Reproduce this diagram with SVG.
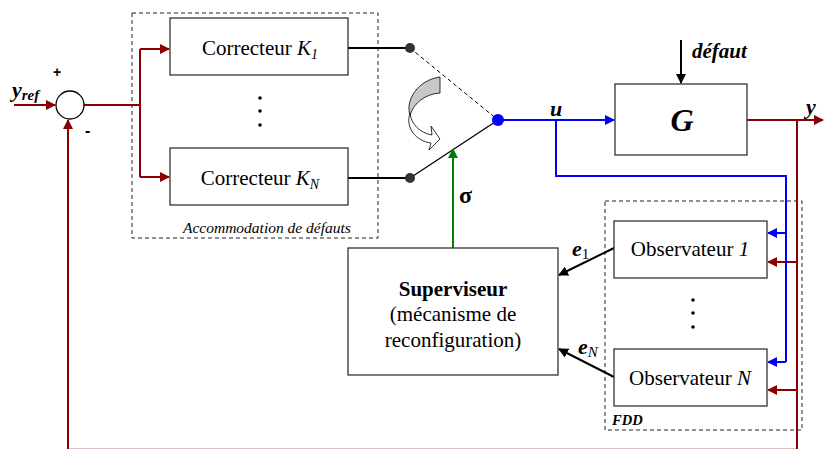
<svg xmlns="http://www.w3.org/2000/svg" width="824" height="449" viewBox="0 0 824 449">
<style>
.box{fill:#fff;stroke:#333;stroke-width:1.3}
.dash{fill:none;stroke:#222;stroke-width:1;stroke-dasharray:4,3}
.t{font-family:"Liberation Serif","Times New Roman",serif;font-size:21px;fill:#000}
.bi{font-family:"Liberation Serif","Times New Roman",serif;font-style:italic;font-weight:bold}
.red{fill:none;stroke:#8b0000;stroke-width:2}
.blue{fill:none;stroke:#0000ff;stroke-width:2}
.blk{fill:none;stroke:#000;stroke-width:2}
</style>
<defs>
<marker id="ar" viewBox="0 0 10 10" refX="9" refY="5" markerWidth="5" markerHeight="5" orient="auto"><path d="M0,0 L10,5 L0,10 Z" fill="#8b0000"/></marker>
<marker id="ab" viewBox="0 0 10 10" refX="9" refY="5" markerWidth="5" markerHeight="5" orient="auto"><path d="M0,0 L10,5 L0,10 Z" fill="#0000ff"/></marker>
<marker id="ak" viewBox="0 0 10 10" refX="9" refY="5" markerWidth="5" markerHeight="5" orient="auto"><path d="M0,0 L10,5 L0,10 Z" fill="#000"/></marker>
<marker id="ag" viewBox="0 0 10 10" refX="9" refY="5" markerWidth="5" markerHeight="5" orient="auto"><path d="M0,0 L10,5 L0,10 Z" fill="#008000"/></marker>
</defs>

<g id="groups">
<rect class="dash" x="132" y="13" width="246" height="225"/>
<text x="183" y="233" style="font-family:'Liberation Serif',serif;font-size:15.5px;font-style:italic">Accommodation de défauts</text>
<rect class="dash" x="605" y="201" width="197" height="229"/>
<text class="bi" x="612" y="425" font-size="14.5">FDD</text>
</g>

<g id="connectors">
<path class="red" d="M14,105 H55" marker-end="url(#ar)"/>
<path class="red" d="M84,105 H140 M140,49 V177 M140,49 H169" marker-end="url(#ar)"/>
<path class="red" d="M140,177 H169" marker-end="url(#ar)"/>
<path class="red" d="M747,120 H823" marker-end="url(#ar)"/>
<path class="red" d="M797,120 V449"/>
<path d="M68,449.75 H797" fill="none" stroke="#8b0000" stroke-width="2"/>
<path class="red" d="M68,449 V120" marker-end="url(#ar)"/>
<path class="red" d="M797,262 H768" marker-end="url(#ar)"/>
<path class="red" d="M797,390 H768" marker-end="url(#ar)"/>
<path class="blue" d="M498,120 H614" marker-end="url(#ab)"/>
<path class="blue" d="M556,120 V176 H786 V362"/>
<path class="blue" d="M786,233 H768" marker-end="url(#ab)"/>
<path class="blue" d="M786,362 H768" marker-end="url(#ab)"/>
<path class="blk" d="M681,40 V83" marker-end="url(#ak)"/>
<path class="blk" d="M348,48 H410 M348,178 H410"/>
<path d="M410,48 L498,120" fill="none" stroke="#000" stroke-width="1" stroke-dasharray="4,3"/>
<path d="M410,178 L498,120" fill="none" stroke="#000" stroke-width="1.3"/>
<path d="M453,248 V149" fill="none" stroke="#008000" stroke-width="2" marker-end="url(#ag)"/>
<path class="blk" d="M614,248 L559,275" marker-end="url(#ak)"/>
<path class="blk" d="M614,377 L559,349" marker-end="url(#ak)"/>
<circle cx="410" cy="48" r="5" fill="#333"/>
<circle cx="410" cy="178" r="5" fill="#333"/>
<circle cx="498" cy="120" r="6" fill="#0000ff"/>
<path d="M440,77 L440,93 C425,94 414,103 410,115 C405,100 418,80 440,77 Z" fill="#c8c8c8" stroke="#000" stroke-width="0.8"/>
<path d="M410,113 C405,128 416,141 431,143 L429,150 L440,139 L431,126 L432,135 C420,133 411,124 410,113 Z" fill="#fff" stroke="#000" stroke-width="0.8"/>
</g>

<g id="sum">
<circle cx="70" cy="105" r="14" fill="#fff" stroke="#000" stroke-width="1.3"/>
<text x="53" y="77" style="font-family:'Liberation Sans',sans-serif;font-size:14px;font-weight:bold">+</text>
<text x="85" y="136" style="font-family:'Liberation Sans',sans-serif;font-size:16px;font-weight:bold">-</text>
<text class="bi" x="12" y="97" font-size="22">y<tspan font-size="15" dy="3">ref</tspan></text>
</g>

<g id="K1">
<rect class="box" x="170" y="18" width="178" height="57"/>
<text class="t" x="260" y="55" text-anchor="middle">Correcteur <tspan font-style="italic">K</tspan><tspan font-style="italic" font-size="14" dy="4">1</tspan></text>
</g>
<g id="Kdots">
<circle cx="260" cy="98" r="1.8"/><circle cx="260" cy="111" r="1.8"/><circle cx="260" cy="125" r="1.8"/>
</g>
<g id="KN">
<rect class="box" x="170" y="148" width="178" height="57"/>
<text class="t" x="260" y="185" text-anchor="middle">Correcteur <tspan font-style="italic">K</tspan><tspan font-style="italic" font-size="14" dy="4">N</tspan></text>
</g>

<g id="labels">
<text x="459" y="203" style="font-family:'Liberation Serif',serif;font-size:24px;font-weight:bold">σ</text>
<text class="bi" x="550" y="116" font-size="22">u</text>
<text class="bi" x="806" y="114" font-size="22">y</text>
<text class="bi" x="692" y="58" font-size="21">défaut</text>
<text class="bi" x="572" y="256" font-size="22">e<tspan font-weight="normal" font-style="normal" font-size="15" dy="3">1</tspan></text>
<text class="bi" x="578" y="354" font-size="22">e<tspan font-weight="normal" font-size="15" dy="3">N</tspan></text>
</g>

<g id="G">
<rect class="box" x="615" y="84" width="132" height="71"/>
<text class="bi" x="682" y="131" text-anchor="middle" font-size="32">G</text>
</g>

<g id="Superviseur">
<rect class="box" x="348" y="248" width="210" height="127"/>
<text class="t" x="453" y="296" text-anchor="middle" font-size="22" font-weight="bold">Superviseur</text>
<text class="t" x="453" y="321" text-anchor="middle" font-size="22">(mécanisme de</text>
<text class="t" x="453" y="347" text-anchor="middle" font-size="22">reconfiguration)</text>
</g>

<g id="Obs1">
<rect class="box" x="614" y="221" width="153" height="57"/>
<text class="t" x="690" y="256" text-anchor="middle" font-size="19.5">Observateur <tspan font-style="italic">1</tspan></text>
</g>
<g id="Odots">
<circle cx="693" cy="300" r="1.8"/><circle cx="693" cy="313" r="1.8"/><circle cx="693" cy="327" r="1.8"/>
</g>
<g id="ObsN">
<rect class="box" x="614" y="349" width="153" height="57"/>
<text class="t" x="690" y="385" text-anchor="middle" font-size="19.5">Observateur <tspan font-style="italic">N</tspan></text>
</g>
</svg>
